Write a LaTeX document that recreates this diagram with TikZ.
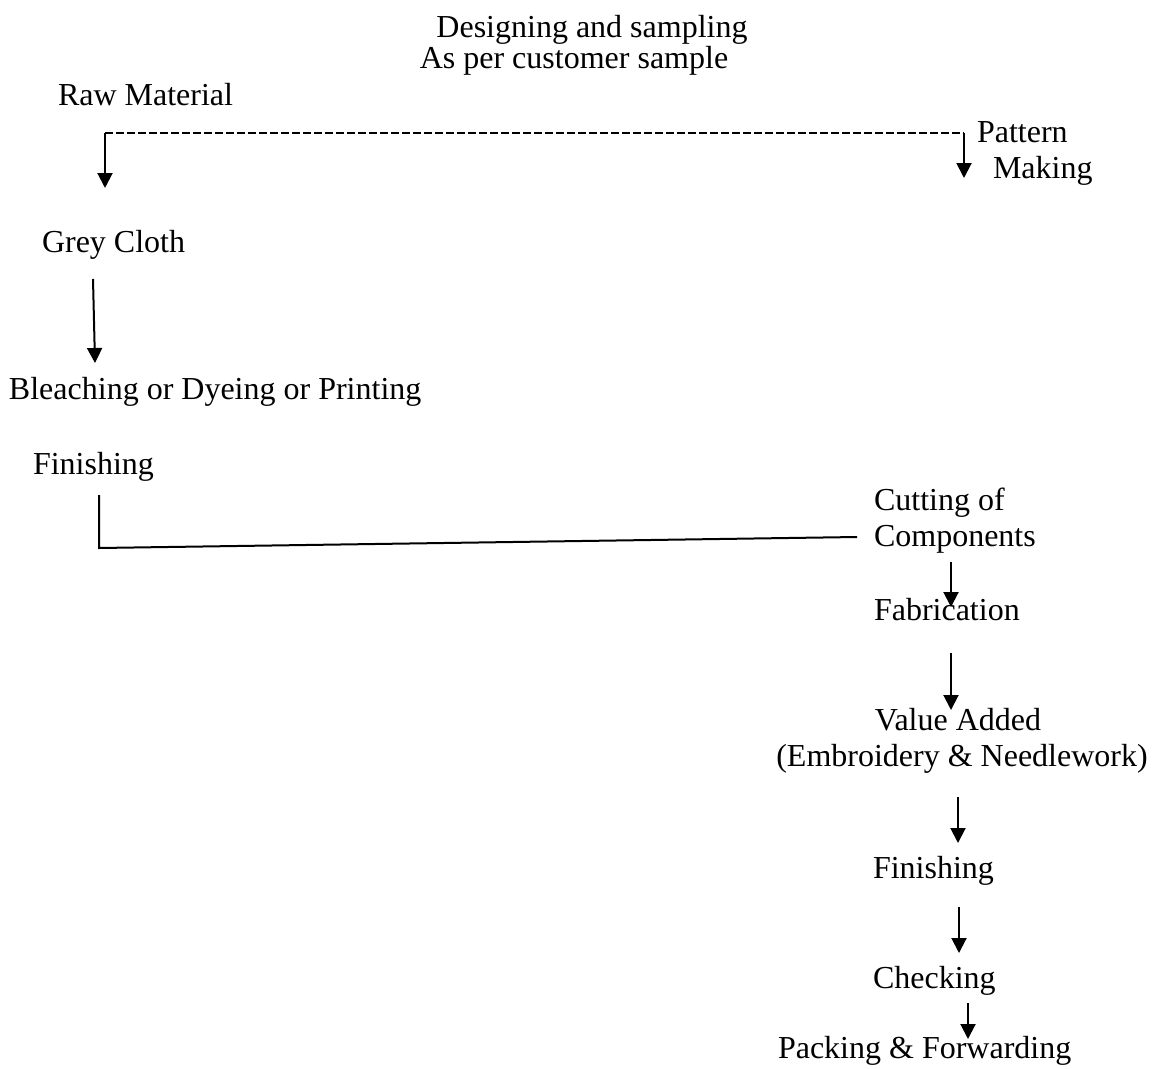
\documentclass[tikz,border=0pt]{standalone}
\usepackage{fontspec}
\setmainfont{Liberation Serif}
\usetikzlibrary{arrows.meta}

\begin{document}
\begin{tikzpicture}[x=1pt,y=-1pt,
  label/.style={anchor=base west,inner sep=0pt,outer sep=0pt,
    font=\fontsize{32}{31}\selectfont},
  flow/.style={line width=2pt,-{Triangle[width=15pt,length=15pt]}},
  link/.style={line width=2pt},
  dashlink/.style={line width=1.5pt,dash pattern=on 7.5pt off 3.5pt}]
\useasboundingbox (0,0) rectangle (1156,1068);

% stage labels
\node[label,anchor=base] (design) at (592,37) {Designing and sampling};
\node[label,anchor=base] (sample) at (574,68) {As per customer sample};
\node[label] (raw) at (58,105) {Raw Material};
\node[label] (pattern) at (977,142) {Pattern};
\node[label] (making) at (993,178) {Making};
\node[label] (grey) at (42,252) {Grey Cloth};
\node[label] (bleach) at (9,399) {Bleaching or Dyeing or Printing};
\node[label] (finish1) at (33,474) {Finishing};
\node[label] (cutting) at (874,510) {Cutting of};
\node[label] (components) at (874,546) {Components};
\node[label] (fabric) at (874,620) {Fabrication};
\node[label,anchor=base] (value) at (958,730) {Value Added};
\node[label,anchor=base] (embroid) at (962,766) {(Embroidery \& Needlework)};
\node[label] (finish2) at (873,878) {Finishing};
\node[label] (checking) at (873,988) {Checking};
\node[label] (packing) at (778,1058) {Packing \& Forwarding};

% connector end points
\coordinate (rawL) at (105,133);
\coordinate (rawR) at (964,133);
\coordinate (rawTip) at (105,188);
\coordinate (patTip) at (964,178);
\coordinate (greyA) at (93,279);
\coordinate (greyTip) at (95,363);
\coordinate (finA) at (99,495);
\coordinate (finB) at (99,548);
\coordinate (cutA) at (857,537);
\coordinate (compA) at (951,562);
\coordinate (compTip) at (951,607);
\coordinate (fabA) at (951,653);
\coordinate (fabTip) at (951,710);
\coordinate (valA) at (958,797);
\coordinate (valTip) at (958,843);
\coordinate (fin2A) at (959,907);
\coordinate (fin2Tip) at (959,953);
\coordinate (chkA) at (968,1003);
\coordinate (chkTip) at (968,1039);

% raw material splits towards cloth and pattern making
\draw[dashlink] (rawL) -- (rawR);
\draw[flow] (rawL) -- (rawTip);
\draw[flow] (rawR) -- (patTip);

% fabric route
\draw[flow] (greyA) -- (greyTip);
\draw[link] (finA) -- (finB) -- (cutA);

% garment route
\draw[flow] (compA) -- (compTip);
\draw[flow] (fabA) -- (fabTip);
\draw[flow] (valA) -- (valTip);
\draw[flow] (fin2A) -- (fin2Tip);
\draw[flow] (chkA) -- (chkTip);
\end{tikzpicture}
\end{document}
